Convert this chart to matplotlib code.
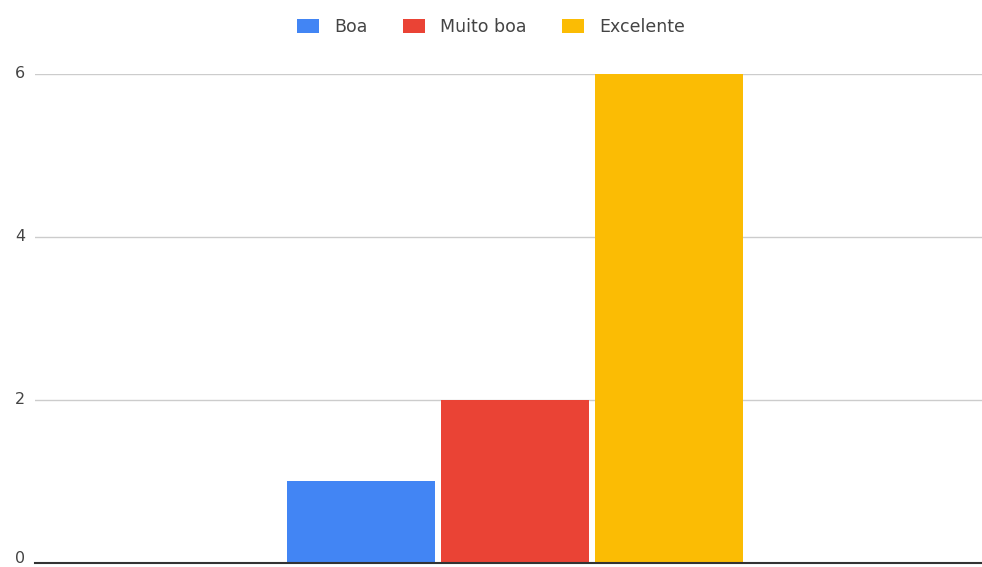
import matplotlib
matplotlib.use("Agg")
import matplotlib.pyplot as plt
import matplotlib.transforms as mtransforms
from matplotlib.patches import Patch

plt.rcParams['font.family'] = ['DejaVu Sans']

series = ["Boa", "Muito boa", "Excelente"]
values = [1, 2, 6]
colors = ["#4285F4", "#EA4335", "#FBBC04"]
yticks = [0, 2, 4, 6]

fig = plt.figure(figsize=(9.82, 5.67), dpi=100)
ax = fig.add_axes([0.0357, 0.0071, 0.9643, 0.8624])

step = 0.208
width = 0.2
for i, (name, v, c) in enumerate(zip(series, values, colors)):
    ax.bar((i - 1) * step, v, width=width, color=c, zorder=3, label=name)

ax.set_xlim(-0.648, 0.630)
ax.set_ylim(0, 6)
ax.set_yticks(yticks)
ax.set_yticklabels([str(t) for t in yticks])
ax.set_xticks([])
ax.yaxis.grid(True, color="#cccccc", linewidth=1, zorder=0)
ax.tick_params(axis="y", length=0, pad=7, labelsize=11.5, labelcolor="#444444")
for s in ["top", "right", "left"]:
    ax.spines[s].set_visible(False)
ax.spines["bottom"].set_color("#333333")
ax.spines["bottom"].set_linewidth(1.5)
ax.spines["bottom"].set_zorder(4)

# lift tick labels slightly; the bottom one a bit more so it stays inside the canvas
for tick in ax.yaxis.get_major_ticks():
    lift = 4.5 if tick.get_loc() == 0 else 1.5
    lab = tick.label1
    lab.set_transform(lab.get_transform() +
                      mtransforms.ScaledTranslation(0, lift / 72, fig.dpi_scale_trans))

handles = [Patch(facecolor=c, label=n) for n, c in zip(series, colors)]
fig.legend(handles=handles, loc="center", bbox_to_anchor=(0.5, 0.952), ncol=3,
           frameon=False, fontsize=12.5, handlelength=1.27, handleheight=0.86,
           handletextpad=0.9, columnspacing=2.0, labelcolor="#444444")

fig.savefig("out.png", dpi=100)
